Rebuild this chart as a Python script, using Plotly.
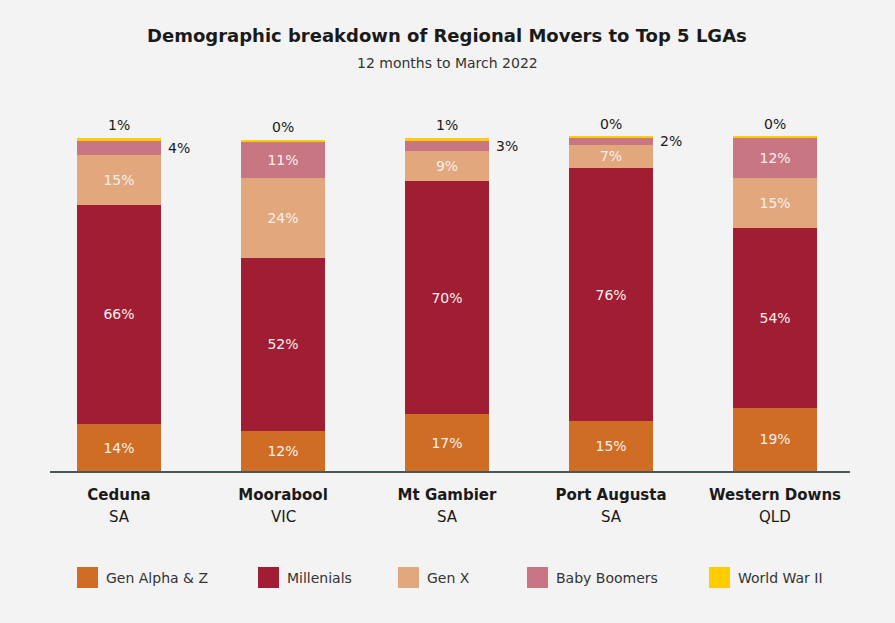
import plotly.graph_objects as go

lgas = ["Ceduna", "Moorabool", "Mt Gambier", "Port Augusta", "Western Downs"]
states = ["SA", "VIC", "SA", "SA", "QLD"]
series_names = ["Gen Alpha & Z", "Millenials", "Gen X", "Baby Boomers", "World War II"]
gen_alpha_z = [14, 12, 17, 15, 19]
millenials = [66, 52, 70, 76, 54]
gen_x = [15, 24, 9, 7, 15]
baby_boomers = [4, 11, 3, 2, 12]
world_war_ii = [1, 0.45, 1, 0.45, 0.45]
colors = ["#D06D25", "#A11D34", "#E2A77C", "#C87682", "#FFCC00"]

series = [gen_alpha_z, millenials, gen_x, baby_boomers, world_war_ii]

FONT = "DejaVu Sans"
BG = "#F3F3F3"
INSIDE_MIN = 5
Y_MAX = 101.5

x = list(range(len(lgas)))
fig = go.Figure()
for name, vals, col in zip(series_names, series, colors):
    texts = [f"{round(v)}%" if v >= INSIDE_MIN else "" for v in vals]
    fig.add_trace(go.Bar(
        x=x, y=vals, name=name, marker=dict(color=col, line=dict(width=0)),
        width=0.512, text=texts, textposition="inside", insidetextanchor="middle",
        constraintext="none",
        textfont=dict(family=FONT, size=14, color="#F8F0F0"),
        hoverinfo="skip", showlegend=False,
    ))

annotations = []
# outside labels
for i in x:
    cum = 0
    for s_idx, vals in enumerate(series):
        v = vals[i]
        if v < INSIDE_MIN:
            if s_idx == len(series) - 1:
                annotations.append(dict(x=i, y=cum + v, xref="x", yref="y",
                                        text=f"{round(v)}%", showarrow=False,
                                        yanchor="bottom", yshift=3,
                                        font=dict(family=FONT, size=14, color="#1a1a1a")))
            else:
                annotations.append(dict(x=i, y=cum + v / 2, xref="x", yref="y",
                                        text=f"{round(v)}%", showarrow=False,
                                        xanchor="left", xshift=47,
                                        font=dict(family=FONT, size=14, color="#1a1a1a")))
        cum += v

# state line under each LGA name
for i, st in zip(x, states):
    annotations.append(dict(x=i, y=0, xref="x", yref="y", text=st, showarrow=False,
                            yanchor="middle", yshift=-46,
                            font=dict(family=FONT, size=15, color="#1a1a1a")))

# layout geometry (pixels)
Y100, PLOT_BOTTOM, PLOT_LEFT, PLOT_W = 138, 471, 50, 800
PX_PER_UNIT = (PLOT_BOTTOM - Y100) / 100
PLOT_TOP = PLOT_BOTTOM - PX_PER_UNIT * Y_MAX
PH = PLOT_BOTTOM - PLOT_TOP

def py(p):
    return (PLOT_BOTTOM - p) / PH

def px(p):
    return (p - PLOT_LEFT) / PLOT_W

annotations.append(dict(x=px(447), y=py(36), xref="paper", yref="paper",
                        text="<b>Demographic breakdown of Regional Movers to Top 5 LGAs</b>",
                        showarrow=False, yanchor="middle",
                        font=dict(family=FONT, size=18, color="#1a1a1a")))
annotations.append(dict(x=px(447), y=py(63), xref="paper", yref="paper",
                        text="12 months to March 2022", showarrow=False, yanchor="middle",
                        font=dict(family=FONT, size=14, color="#333333")))

# custom legend
shapes = []
legend_x = [77, 258, 398, 527, 709]
for lx, name, col in zip(legend_x, series_names, colors):
    shapes.append(dict(type="rect", xref="paper", yref="paper",
                       x0=px(lx), x1=px(lx + 21), y0=py(588), y1=py(567),
                       fillcolor=col, line=dict(width=0)))
    annotations.append(dict(x=px(lx + 27), y=py(578), xref="paper", yref="paper",
                            text=name, showarrow=False, xanchor="left", yanchor="middle",
                            font=dict(family=FONT, size=14, color="#333333")))

ticktext = [f"<b>{a}</b>" for a in lgas]

fig.update_layout(
    width=895, height=623,
    margin=dict(l=PLOT_LEFT, r=895 - PLOT_LEFT - PLOT_W, t=PLOT_TOP, b=623 - PLOT_BOTTOM),
    paper_bgcolor=BG, plot_bgcolor=BG,
    barmode="stack",
    annotations=annotations, shapes=shapes,
    xaxis=dict(range=[-0.4207, 4.457], tickvals=x, ticktext=ticktext,
               showgrid=False, zeroline=False, showline=True, linecolor="#4A5858",
               linewidth=2, ticks="", ticklabelstandoff=9,
               tickfont=dict(family=FONT, size=15, color="#1a1a1a")),
    yaxis=dict(range=[0, Y_MAX], visible=False, showgrid=False, zeroline=False),
    font=dict(family=FONT),
)

fig.write_html("out.html")
